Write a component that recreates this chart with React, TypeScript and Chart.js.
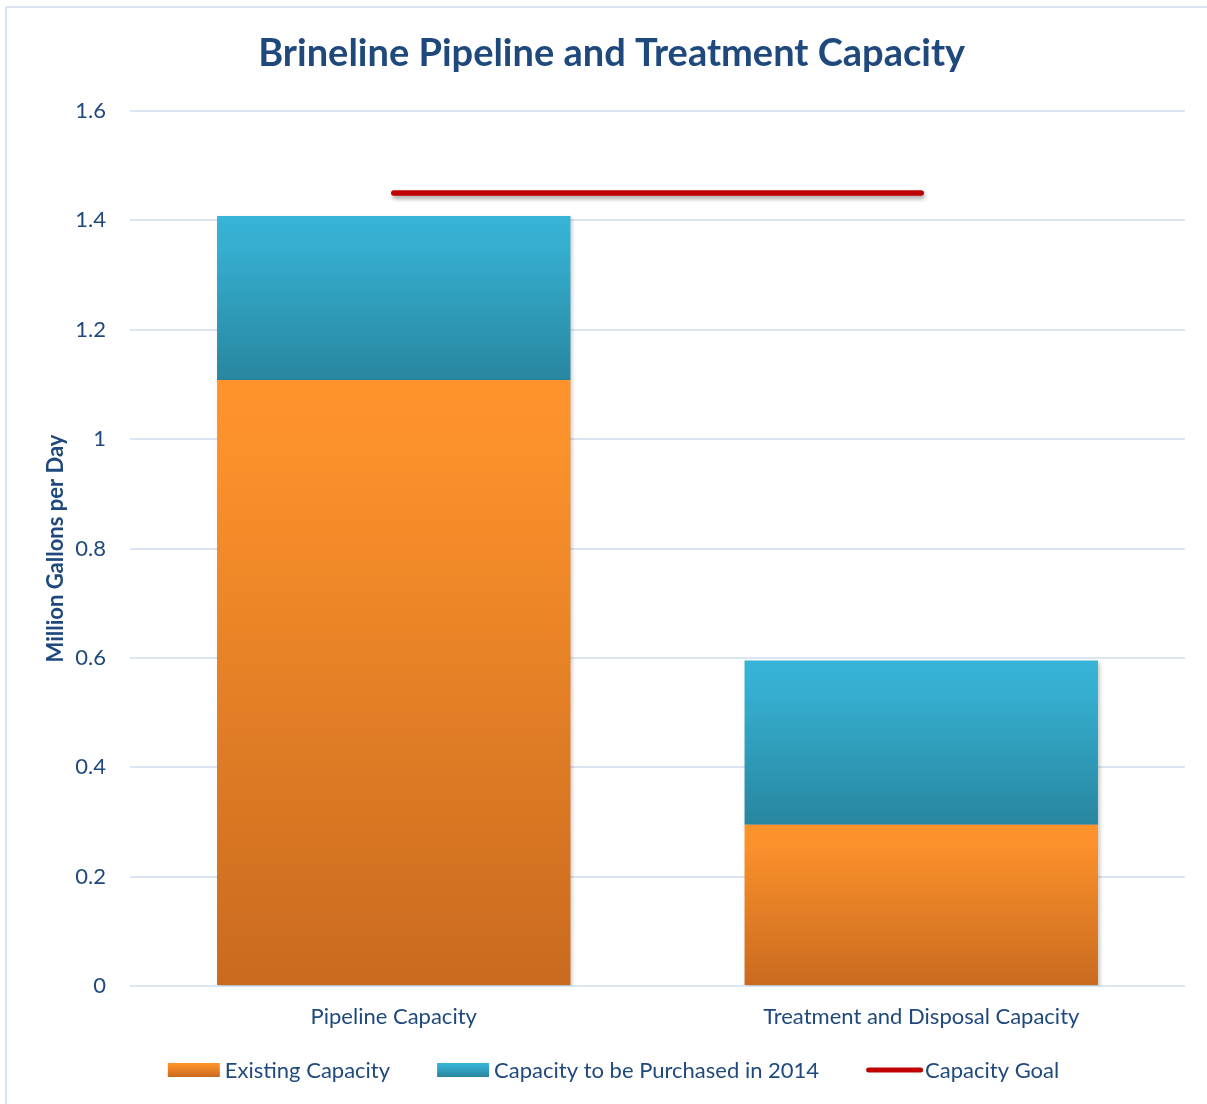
import React, { useEffect, useRef } from "react";
import { Chart, registerables } from "chart.js";

Chart.register(...registerables);

const categories = ["Pipeline Capacity", "Treatment and Disposal Capacity"];
const existingCapacity = [1.108, 0.295];
const purchasedCapacity = [0.3, 0.3];
const capacityGoal = [1.45, 1.45];
const yTicks = [0, 0.2, 0.4, 0.6, 0.8, 1, 1.2, 1.4, 1.6];

const TEXT = "#1F497D";
const FONT = "Lato";
const ORANGE_STOPS: [number, string][] = [[0, "#FE932C"], [0.12, "#FB912B"], [1, "#C96A1F"]];
const BLUE_STOPS: [number, string][] = [[0, "#38B4D7"], [0.2, "#35AECF"], [1, "#2886A0"]];

function grad(ctx: CanvasRenderingContext2D, y0: number, y1: number, stops: [number, string][]) {
  const g = ctx.createLinearGradient(0, y0, 0, y1);
  stops.forEach(([o, c]) => g.addColorStop(o, c));
  return g;
}

function barFill(stops: [number, string][], baseOf: (i: number) => number) {
  return (c: any) => {
    const chart = c.chart;
    const y = chart.scales && chart.scales.y;
    if (!chart.chartArea || !y || c.dataIndex === undefined) return stops[0][1];
    const base = baseOf(c.dataIndex);
    const top = base + (c.raw as number);
    return grad(chart.ctx, y.getPixelForValue(top), y.getPixelForValue(base), stops);
  };
}

const shadowPlugin = {
  id: "shadows",
  beforeDatasetDraw(chart: any, args: any) {
    const ctx = chart.ctx;
    ctx.save();
    if (args.meta.type === "line") {
      ctx.shadowColor = "rgba(0,0,0,0.35)";
      ctx.shadowBlur = 4;
      ctx.shadowOffsetX = 1;
      ctx.shadowOffsetY = 3;
    } else {
      ctx.shadowColor = "rgba(0,0,0,0.22)";
      ctx.shadowBlur = 4;
      ctx.shadowOffsetX = 2;
      ctx.shadowOffsetY = 2;
    }
  },
  afterDatasetDraw(chart: any) {
    chart.ctx.restore();
  },
};

const legendPlugin = {
  id: "customLegend",
  afterDraw(chart: any) {
    const ctx = chart.ctx as CanvasRenderingContext2D;
    const ds = chart.data.datasets;
    const boxW = 52, lineW = 57, boxH = 14, gap = 5, lineGap = 2, spacing = 47;
    const cy = 1070;
    ctx.save();
    ctx.font = `22px ${FONT}`;
    const widths = ds.map((d: any) =>
      (d.type === "line" ? lineW + lineGap : boxW + gap) + ctx.measureText(d.label).width
    );
    const total = widths.reduce((a: number, b: number) => a + b, 0) + spacing * (ds.length - 1);
    let x = 613.5 - total / 2;
    ds.forEach((d: any, i: number) => {
      let tx: number;
      if (d.type === "line") {
        ctx.strokeStyle = d.borderColor;
        ctx.lineWidth = 5;
        ctx.lineCap = "round";
        ctx.beginPath();
        ctx.moveTo(x + 2.5, cy);
        ctx.lineTo(x + lineW - 2.5, cy);
        ctx.stroke();
        tx = x + lineW + lineGap;
      } else {
        const stops = i === 0 ? ORANGE_STOPS : BLUE_STOPS;
        ctx.fillStyle = grad(ctx, cy - boxH / 2, cy + boxH / 2, stops);
        ctx.fillRect(x, cy - boxH / 2, boxW, boxH);
        tx = x + boxW + gap;
      }
      ctx.fillStyle = TEXT;
      ctx.textBaseline = "middle";
      ctx.textAlign = "left";
      ctx.fillText(d.label, tx, cy + 1);
      x += widths[i] + spacing;
    });
    ctx.restore();
  },
};

export default function App() {
  const ref = useRef<HTMLCanvasElement>(null);
  useEffect(() => {
    if (!ref.current) return;
    Chart.defaults.font.family = FONT;
    const chart = new Chart(ref.current, {
      type: "bar",
      data: {
        labels: categories,
        datasets: [
          {
            type: "bar",
            label: "Existing Capacity",
            data: existingCapacity,
            backgroundColor: barFill(ORANGE_STOPS, () => 0),
            stack: "s",
            order: 1,
            barPercentage: 0.67,
            categoryPercentage: 1,
          },
          {
            type: "bar",
            label: "Capacity to be Purchased in 2014",
            data: purchasedCapacity,
            backgroundColor: barFill(BLUE_STOPS, (i) => existingCapacity[i]),
            stack: "s",
            order: 1,
            barPercentage: 0.67,
            categoryPercentage: 1,
          },
          {
            type: "line",
            label: "Capacity Goal",
            data: capacityGoal,
            borderColor: "#C00000",
            backgroundColor: "#C00000",
            borderWidth: 5.5,
            borderCapStyle: "round",
            pointRadius: 0,
            order: 0,
          } as any,
        ],
      },
      options: {
        responsive: false,
        maintainAspectRatio: false,
        animation: false,
        devicePixelRatio: 1,
        layout: { padding: { left: 38.3, right: 22, top: 0, bottom: 74 } },
        plugins: {
          legend: { display: false },
          tooltip: { enabled: false },
          title: {
            display: true,
            text: "Brineline Pipeline and Treatment Capacity",
            color: TEXT,
            font: { family: FONT, size: 38, weight: "bold" },
            padding: { top: 31.2, bottom: 34.2 },
          },
        },
        scales: {
          x: {
            stacked: true,
            grid: { display: false, drawTicks: false },
            border: { display: false },
            ticks: { color: TEXT, font: { size: 22, family: FONT }, padding: 18 },
            afterFit: (s: any) => { s.height = 44; },
          },
          y: {
            stacked: true,
            min: 0,
            max: 1.6,
            afterBuildTicks: (s: any) => { s.ticks = yTicks.map((v) => ({ value: v })); },
            ticks: {
              color: TEXT,
              font: { size: 22, family: FONT },
              padding: 24,
              callback: (v: any) => String(Number(Number(v).toFixed(1))),
            },
            grid: { color: "#DCE6F2", lineWidth: 2, drawTicks: false },
            border: { display: false },
            title: {
              display: true,
              text: "Million Gallons per Day",
              color: TEXT,
              font: { size: 22, weight: "bold", family: FONT },
              padding: { top: 4, bottom: 0 },
            },
            afterFit: (s: any) => { s.width = 130 - 38.3; },
          },
        },
      },
      plugins: [shadowPlugin, legendPlugin],
    } as any);
    return () => chart.destroy();
  }, []);

  return (
    <div style={{ position: "absolute", left: 0, top: 0, width: 1207, height: 1104, overflow: "hidden", background: "#fff" }}>
      <div style={{ position: "absolute", left: 5, top: 6, width: 1240, height: 1140, border: "2px solid #DCE6F2", boxSizing: "border-box" }} />
      <canvas ref={ref} width={1207} height={1104} style={{ position: "absolute", left: 0, top: 0, width: 1207, height: 1104 }} />
    </div>
  );
}
